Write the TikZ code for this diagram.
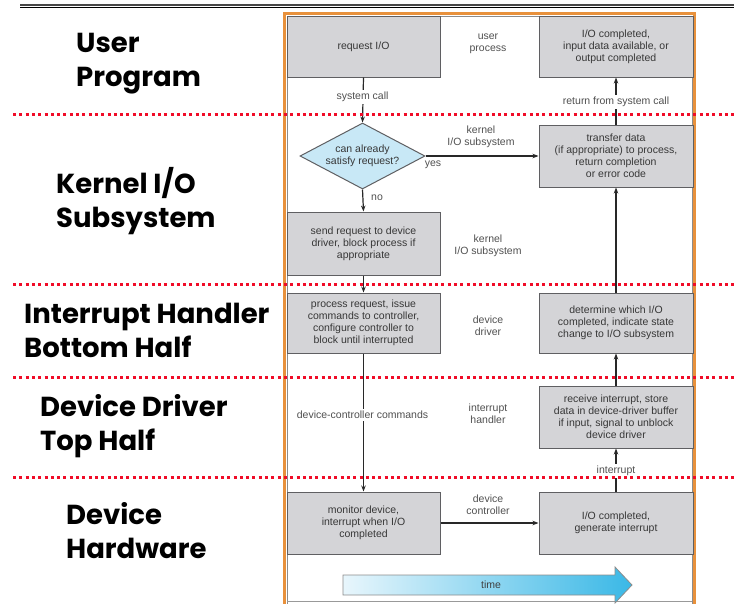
\documentclass[tikz,border=0pt]{standalone}
\usepackage{fontspec}
\setmainfont{Liberation Sans}
\newfontfamily\lblfont{Poppins}
\usetikzlibrary{shapes.geometric,arrows.meta}

\definecolor{boxfill}{RGB}{212,212,215}
\definecolor{boxedge}{RGB}{95,95,98}
\definecolor{boxtext}{RGB}{55,55,55}
\definecolor{notetext}{RGB}{80,80,80}
\definecolor{arrowc}{RGB}{40,40,40}
\definecolor{diafill}{RGB}{200,232,246}
\definecolor{frameorange}{RGB}{232,145,60}
\definecolor{sepred}{RGB}{240,12,40}
\definecolor{timeleft}{RGB}{232,246,252}
\definecolor{timeright}{RGB}{58,184,230}

\begin{document}
\begin{tikzpicture}[x=1pt,y=-1pt,
  box/.style={draw=boxedge, fill=boxfill, line width=1pt, inner sep=2pt,
    align=center, text=boxtext, font=\fontsize{10.5}{12}\selectfont},
  lbox/.style={box, minimum width=153pt, minimum height=61pt},
  rbox/.style={box, minimum width=154pt, minimum height=61pt},
  note/.style={align=center, text=notetext, inner sep=1pt,
    font=\fontsize{10.5}{12}\selectfont},
  onwire/.style={note, fill=white, inner sep=2pt},
  flow/.style={draw=arrowc, line width=1.2pt, -{Stealth[length=6pt,width=4.5pt]}},
  layersep/.style={draw=sepred, line width=3pt, dash pattern=on 3pt off 3.3pt},
  layer/.style={anchor=west, align=left, inner sep=0pt,
    font=\lblfont\bfseries\fontsize{27.5}{34}\selectfont}
]
\useasboundingbox (0,0) rectangle (734,603);

% heading rule
\draw[line width=2pt, draw=black!72] (20,4.5) -- (734,4.5);
\draw[line width=0.9pt, draw=black] (20,7.8) -- (734,7.8);

% figure frame
\draw[line width=3pt, draw=frameorange] (284.5,608) -- (284.5,13.5) -- (694.5,13.5) -- (694.5,608);
\draw[line width=0.8pt, draw=black!45] (287,608) -- (287,16) -- (692,16) -- (692,608);
\draw[line width=0.8pt, draw=black!40] (287,601.8) -- (692,601.8);

% process boxes
\node[lbox] (req)   at (363.5,46.5) {request I/O};
\node[rbox] (iodone) at (616,46.5) {I/O completed,\\input data available, or\\output completed};
\node[diamond, draw=boxedge, fill=diafill, line width=1pt, inner sep=0pt,
      minimum width=125pt, minimum height=66pt] (dia) at (362.5,156) {};
\node[note, text=boxtext] (diatext) at (dia) {can already\\satisfy request?};
\node[rbox, minimum height=62pt] (xfer) at (616,156) {transfer data\\(if appropriate) to process,\\return completion\\or error code};
\node[lbox, minimum height=63pt] (send) at (363.5,243.5) {send request to device\\driver, block process if\\appropriate};
\node[lbox, minimum height=60pt] (proc) at (363.5,323) {process request, issue\\commands to controller,\\configure controller to\\block until interrupted};
\node[rbox, minimum height=60pt] (which) at (616,323) {determine which I/O\\completed, indicate state\\change to I/O subsystem};
\node[rbox, minimum height=62pt] (recv) at (616,417) {receive interrupt, store\\data in device-driver buffer\\if input, signal to unblock\\device driver};
\node[lbox, minimum height=62pt] (mon) at (363.5,523) {monitor device,\\interrupt when I/O\\completed};
\node[rbox, minimum height=62pt] (gen) at (616,523) {I/O completed,\\generate interrupt};

% column notes
\node[note] (nuser) at (488,44) {user\\process};
\node[note] (nkern1) at (481,137) {kernel\\I/O subsystem};
\node[note] (nkern2) at (488,246) {kernel\\I/O subsystem};
\node[note] (ndrv) at (488,326) {device\\driver};
\node[note] (nint) at (488,414) {interrupt\\handler};
\node[note] (nctl) at (488,505) {device\\controller};
\node[note] (nyes) at (433,165) {yes};
\node[note] (nno) at (377,198) {no};

% connectors
\draw[flow] (req.south) -- (dia.north);
\node[onwire] (lsys) at (362.5,97) {system call};
\draw[flow] (dia.east) -- (xfer.west);
\draw[flow] (dia.south) -- (send.north);
\draw[flow] (send.south) -- (proc.north);
\draw[flow] (proc.south) -- (mon.north);
\node[onwire] (lcmd) at (362.5,415) {device-controller commands};
\draw[flow] (mon.east) -- (gen.west);
\draw[flow] (gen.north) -- (recv.south);
\node[onwire] (lirq) at (616,471) {interrupt};
\draw[flow] (recv.north) -- (which.south);
\draw[flow] (which.north) -- (xfer.south);
\draw[flow] (xfer.north) -- (iodone.south);
\node[onwire] (lret) at (616,102) {return from system call};

% time arrow
\shade[left color=timeleft, right color=timeright, draw=black!45, line width=0.8pt]
  (343,575) -- (615,575) -- (615,567) -- (632,585) -- (615,603) -- (615,595) -- (343,595) -- cycle;
\node[note, text=black!75] (ltime) at (491,585) {time};

% layer names
\node[layer] (lyuser) at (76,64) {User\\Program};
\node[layer] (lykern) at (56,201.5) {Kernel I/O\\Subsystem};
\node[layer] (lybot)  at (24,330.5) {Interrupt Handler\\Bottom Half};
\node[layer] (lytop)  at (40,426.5) {Device Driver\\Top Half};
\node[layer] (lyhw)   at (66,530.5) {Device\\Hardware};

% layer boundaries
\draw[layersep] (13,114) -- (734,114);
\draw[layersep] (13,284) -- (734,284);
\draw[layersep] (13,377) -- (734,377);
\draw[layersep] (13,477) -- (734,477);
\end{tikzpicture}
\end{document}
